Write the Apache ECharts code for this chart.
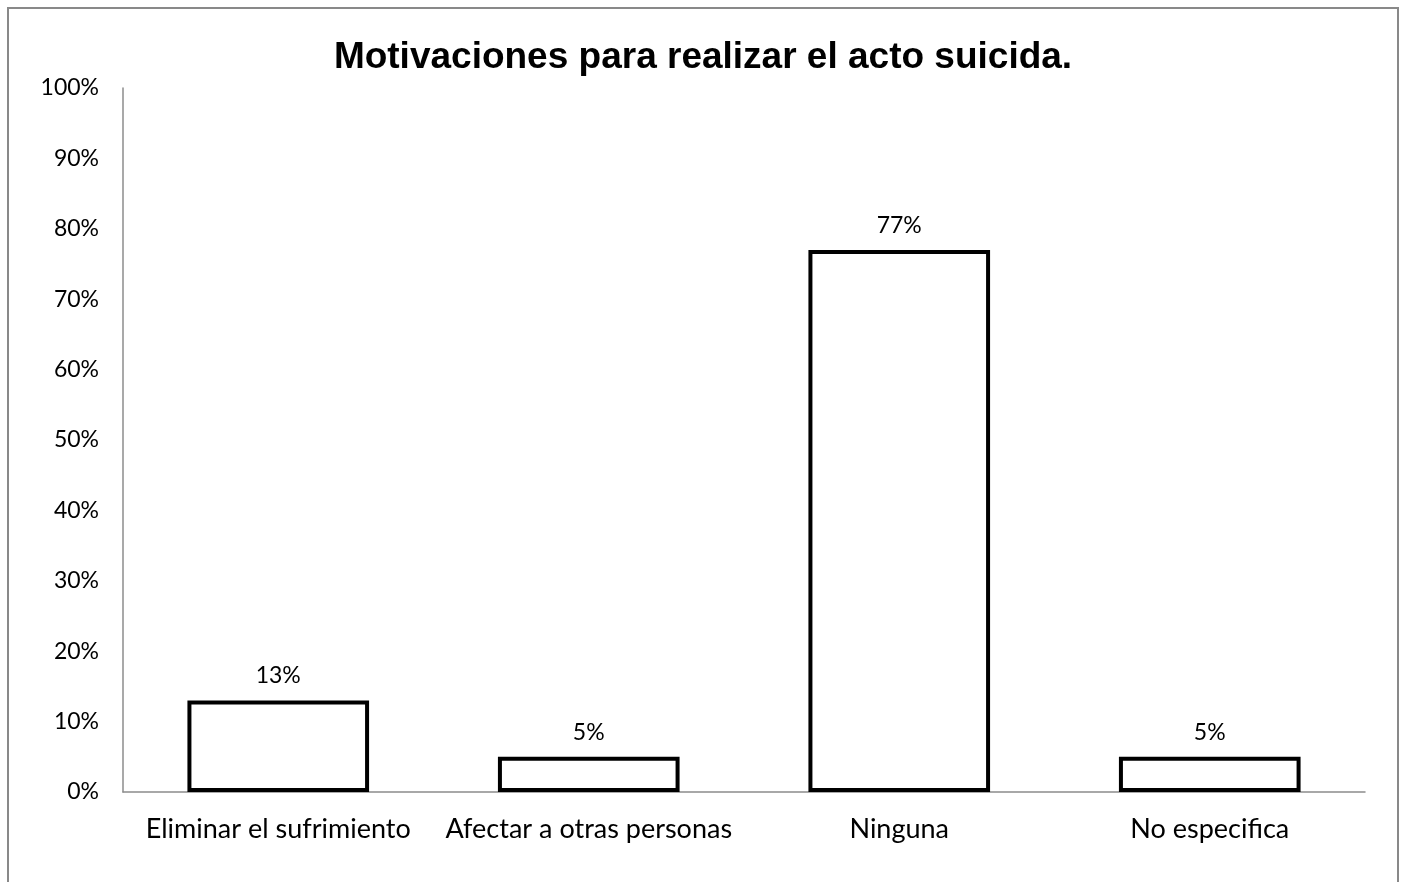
<!DOCTYPE html>
<html>
<head>
<meta charset="utf-8">
<script src="https://cdn.jsdelivr.net/npm/echarts@6/dist/echarts.min.js"></script>
<style>
html,body{margin:0;padding:0;background:#fff;}
#chart{width:1406px;height:882px;}
</style>
</head>
<body>
<div id="chart"></div>
<script>
const titleText = 'Motivaciones para realizar el acto suicida.';
const categories = ['Eliminar el sufrimiento', 'Afectar a otras personas', 'Ninguna', 'No especifica'];
const values = [13, 5, 77, 5];

const chart = echarts.init(document.getElementById('chart'));
const font = 'Lato, "Open Sans", sans-serif';
chart.setOption({
  backgroundColor: '#fff',
  animation: false,
  title: {
    text: titleText,
    left: 'center',
    top: 34,
    textStyle: {fontFamily: 'Liberation Sans, Arial, sans-serif', fontWeight: 'bold', fontSize: 37, color: '#000'}
  },
  graphic: [{
    type: 'rect',
    shape: {x: 8, y: 8, width: 1390, height: 900},
    style: {fill: 'none', stroke: '#898989', lineWidth: 2},
    silent: true
  }],
  grid: {left: 123, right: 41, top: 88, bottom: 90, containLabel: false},
  xAxis: {
    type: 'category',
    data: categories,
    axisLine: {lineStyle: {color: '#8c8c8c', width: 1.5}},
    axisTick: {show: false},
    axisLabel: {fontFamily: font, fontSize: 27, color: '#000', margin: 24, interval: 0}
  },
  yAxis: {
    type: 'value',
    min: 0, max: 100, interval: 10,
    axisLine: {show: true, lineStyle: {color: '#8c8c8c', width: 1.5}},
    axisTick: {show: false},
    splitLine: {show: false},
    axisLabel: {fontFamily: font, fontSize: 23, color: '#000', margin: 24, formatter: '{value}%'}
  },
  series: [{
    type: 'bar',
    data: values,
    barWidth: '58.5%',
    itemStyle: {color: '#fff', borderColor: '#000', borderWidth: 4},
    label: {show: true, position: 'top', distance: 13, formatter: '{c}%', fontFamily: font, fontSize: 23, color: '#000'}
  }]
});
</script>
</body>
</html>
